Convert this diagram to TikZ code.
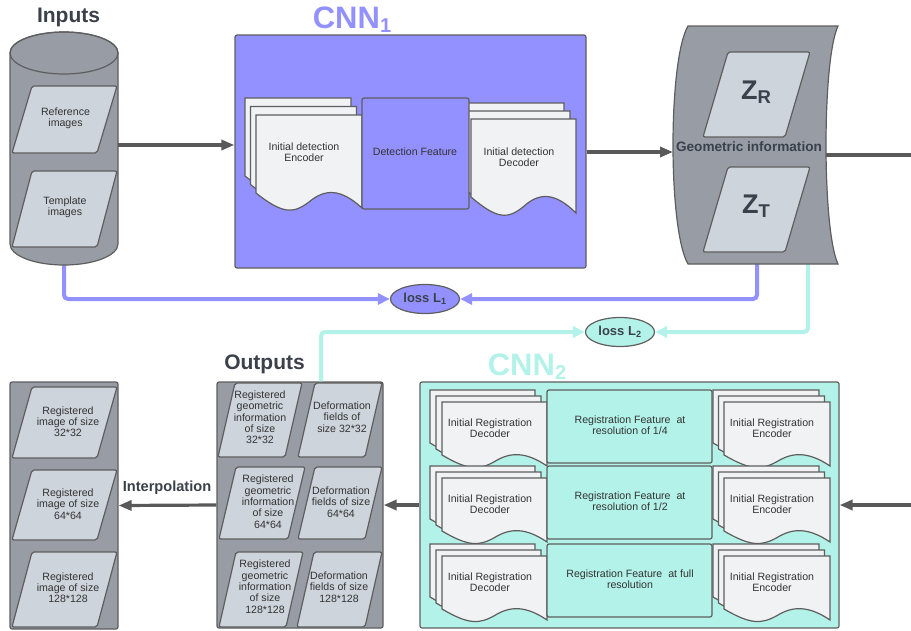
\documentclass[tikz,border=0pt]{standalone}
\usepackage{fontspec}
\setmainfont{Liberation Sans}
\usetikzlibrary{arrows.meta,shapes.geometric}

\definecolor{lav}{HTML}{9391FF}
\definecolor{mint}{HTML}{B3F2E8}
\definecolor{slate}{HTML}{979CA5}
\definecolor{pale}{HTML}{CED4DB}
\definecolor{paper}{HTML}{F1F2F4}
\definecolor{edge}{HTML}{5E5E5E}
\definecolor{ink}{HTML}{3A414A}
\definecolor{body}{HTML}{333333}
\definecolor{wirec}{HTML}{595959}

% document sheet with a wavy lower edge: left, top, width, height, wave depth
\newcommand{\docsheet}[5]{%
  \filldraw[sheet] ({#1},{#2}) -- ({#1},{(#2)+(#4)-(#5)})
    .. controls ({(#1)+0.25*(#3)},{(#2)+(#4)+0.4*(#5)}) and ({(#1)+0.35*(#3)},{(#2)+(#4)+0.4*(#5)})
    .. ({(#1)+0.5*(#3)},{(#2)+(#4)-0.4*(#5)})
    .. controls ({(#1)+0.65*(#3)},{(#2)+(#4)-1.3*(#5)}) and ({(#1)+0.8*(#3)},{(#2)+(#4)-1.3*(#5)})
    .. ({(#1)+(#3)},{(#2)+(#4)}) -- ({(#1)+(#3)},{#2}) -- cycle;}
% three stacked sheets: back-left, back-top, dx, dy, width, height, wave depth
\newcommand{\docstack}[7]{%
  \docsheet{#1}{#2}{#5}{#6}{#7}%
  \docsheet{(#1)+(#3)}{(#2)+(#4)}{#5}{#6}{#7}%
  \docsheet{(#1)+2*(#3)}{(#2)+2*(#4)}{#5}{#6}{#7}}
% parallelogram: left, top, right, bottom, slant
\newcommand{\slab}[5]{%
  \filldraw[slabst] ({(#1)+(#5)},{#2}) -- ({#3},{#2}) -- ({(#3)-(#5)},{#4}) -- ({#1},{#4}) -- cycle;}

\tikzset{
  box/.style={draw=edge, line width=1.2pt, rounded corners=2pt, inner sep=0pt},
  hold/.style={inner sep=0pt, outer sep=0pt},
  sheet/.style={fill=paper, draw=edge, line width=1.2pt},
  slabst/.style={fill=pale, draw=edge, line width=1.2pt, rounded corners=2pt},
  txt/.style={align=center, text=body, font=\fontsize{10.6}{11.4}\selectfont, inner sep=0pt},
  headline/.style={font=\bfseries\fontsize{21}{21}\selectfont, text=ink, inner sep=0pt, anchor=base},
  wire/.style={draw=wirec, line width=3.2pt, -{Triangle[length=13pt,width=10pt]}},
  plainwire/.style={draw=wirec, line width=3.2pt},
  lavline/.style={draw=lav, line width=4pt, rounded corners=4pt, -{Triangle[length=12pt,width=11pt]}},
  mintline/.style={draw=mint, line width=4pt, rounded corners=4pt, -{Triangle[length=12pt,width=11pt]}},
  loss/.style={ellipse, draw=edge, line width=1.2pt, minimum width=69pt, minimum height=29pt,
    inner sep=0pt, font=\bfseries\fontsize{13}{13}\selectfont, text=ink},
}

\begin{document}
\begin{tikzpicture}[x=1pt,y=-1pt]
\useasboundingbox (0,0) rectangle (911,630);

% ---------- placeholders for the special shapes ----------
\node[hold, minimum width=108pt, minimum height=233pt] (inp) at (64,148.5) {};
\node[hold, minimum width=165pt, minimum height=238pt] (geo) at (755.5,145) {};
\coordinate (exitR) at (911,155);
\coordinate (entryR) at (911,505);

% ---------- loss feedback lines ----------
\node[loss, fill=lav] (loss1) at (425,299) {loss L\textsubscript{1}};
\node[loss, fill=mint] (loss2) at (620,332) {loss L\textsubscript{2}};
\draw[lavline] (inp.south) |- (loss1.west);
\draw[lavline] ([xshift=1.5pt]geo.south) |- (loss1.east);
\draw[mintline] ([xshift=52.5pt]geo.south) |- (loss2.east);

% ---------- inputs cylinder ----------
\node[headline] (inTitle) at (68.5,22) {Inputs};
\filldraw[fill=slate, draw=edge, line width=1.2pt]
  (10,53) -- (10,244) arc[start angle=180, end angle=360, x radius=54pt, y radius=21pt]
  -- (118,53) arc[start angle=0, end angle=180, x radius=54pt, y radius=21pt] -- cycle;
\draw[draw=edge, line width=1.2pt] (64,53) ellipse[x radius=54pt, y radius=21pt];
\slab{12}{86}{117}{153}{20}
\slab{12}{171}{117}{247}{20}
\node[txt] (refImg) at (65.5,118) {Reference\\images};
\node[txt] (tplImg) at (65,207.5) {Template\\images};

% ---------- CNN1 ----------
\node[anchor=base, inner sep=0pt, text=lav, font=\bfseries\fontsize{31}{31}\selectfont] (cnn1Title) at (352,28)
  {CNN\raisebox{-4pt}{\fontsize{20}{20}\selectfont 1}};
\node[box, fill=lav, minimum width=351pt, minimum height=233pt] (cnn1) at (410.5,151.5) {};
\docstack{245}{98}{5.5}{8.5}{106}{93}{15}
\docstack{459}{103}{6}{8}{105}{94}{16}
\node[box, fill=lav, minimum width=107pt, minimum height=111pt] (detFeat) at (415.5,153.5) {};
\node[txt] (detFeatTxt) at (415,152) {Detection Feature};
\node[txt] (detEnc) at (304,152.5) {Initial detection\\Encoder};
\node[txt] (detDec) at (519,157) {Initial detection\\Decoder};
\draw[wire] (inp.east |- 0,145) -- (cnn1.west |- 0,145);

% ---------- geometric information ----------
\draw[plainwire] (geo.center |- 0,155) -- (exitR);
\filldraw[fill=slate, draw=edge, line width=1.2pt]
  (688,26) -- (838,26) .. controls (822,60) and (822,230) .. (838,264)
  -- (688,264) .. controls (668,230) and (668,60) .. (688,26) -- cycle;
\slab{703}{52}{810}{137}{25}
\slab{703}{167}{810}{252}{25}
\node[anchor=base, inner sep=0pt, text=ink, font=\bfseries\fontsize{27}{27}\selectfont] (zR) at (756,99)
  {Z\raisebox{-4pt}{\fontsize{18.5}{18.5}\selectfont R}};
\node[anchor=base, inner sep=0pt, text=ink, font=\bfseries\fontsize{27}{27}\selectfont] (zT) at (756,213)
  {Z\raisebox{-4pt}{\fontsize{18.5}{18.5}\selectfont T}};
\node[anchor=base, inner sep=0pt, text=ink, font=\bfseries\fontsize{13.6}{13.6}\selectfont] (geoTxt) at (749,151)
  {Geometric information};
\draw[wire] (cnn1.east |- 0,152) -- (geo.west |- 0,152);

% ---------- CNN2 ----------
\node[anchor=base, inner sep=0pt, text=mint, font=\bfseries\fontsize{31}{31}\selectfont] (cnn2Title) at (527,375)
  {CNN\raisebox{-4pt}{\fontsize{20}{20}\selectfont 2}};
\node[box, fill=mint, minimum width=419pt, minimum height=246pt] (cnn2) at (629.5,505) {};
\foreach \r/\lbl in {390/1, 466/2, 544/3} {
  \docstack{430}{\r}{6}{6}{105}{64}{11}
  \docstack{713}{\r}{5.5}{6}{106}{64}{11}
  \node[box, fill=mint, minimum width=165pt, minimum height=73pt] (regFeat\lbl) at (629.5,{\r+36.5}) {};
  \node[txt] (regDec\lbl) at (490,{\r+38}) {Initial Registration\\Decoder};
  \node[txt] (regEnc\lbl) at (772,{\r+38}) {Initial Registration\\Encoder};
}
\node[txt] (regTxt1) at (630,425) {Registration Feature\ \ at\\resolution of 1/4};
\node[txt] (regTxt2) at (630,501) {Registration Feature\ \ at\\resolution of 1/2};
\node[txt] (regTxt3) at (630,579) {Registration Feature\ \ at full\\resolution};
\draw[wire] (entryR) -- (cnn2.east);

% ---------- outputs ----------
\node[headline] (outTitle) at (264.5,369) {Outputs};
\node[box, fill=slate, minimum width=166pt, minimum height=246pt] (outs) at (300,505) {};
\slab{218}{383}{302}{457}{17}
\slab{298}{383}{382}{457}{17}
\slab{219}{467}{305}{539}{17}
\slab{298}{467}{382}{539}{17}
\slab{219}{552}{303}{627}{17}
\slab{297}{552}{382}{627}{17}
\node[txt] (geo32) at (260,417.3) {Registered\\geometric\\information\\of size\\32*32};
\node[txt] (def32) at (342,417) {Deformation\\fields of\\size 32*32};
\node[txt] (geo64) at (268,501.7) {Registered\\geometric\\information\\of size\\64*64};
\node[txt] (def64) at (341,502) {Deformation\\fields of size\\64*64};
\node[txt] (geo128) at (265,586.7) {Registered\\geometric\\information\\of size\\128*128};
\node[txt] (def128) at (339,587) {Deformation\\fields of size\\128*128};
\draw[wire] (cnn2.west) -- (outs.east);
\draw[mintline] ([xshift=21pt]outs.north) |- (loss2.west);

% ---------- registered images ----------
\node[box, fill=slate, minimum width=108pt, minimum height=247pt] (imgs) at (64,505.5) {};
\slab{12}{387}{117}{458}{20}
\slab{12}{470}{117}{540}{20}
\slab{12}{552}{117}{627}{20}
\node[txt] (img32) at (68,421.7) {Registered\\image of size\\32*32};
\node[txt] (img64) at (68,504) {Registered\\image of size\\64*64};
\node[txt] (img128) at (68,587.7) {Registered\\image of size\\128*128};
\draw[wire] (outs.west) -- (imgs.east);
\node[anchor=base, inner sep=0pt, text=ink, font=\bfseries\fontsize{14.6}{14.6}\selectfont] (interp) at (167,491)
  {Interpolation};
\end{tikzpicture}
\end{document}
